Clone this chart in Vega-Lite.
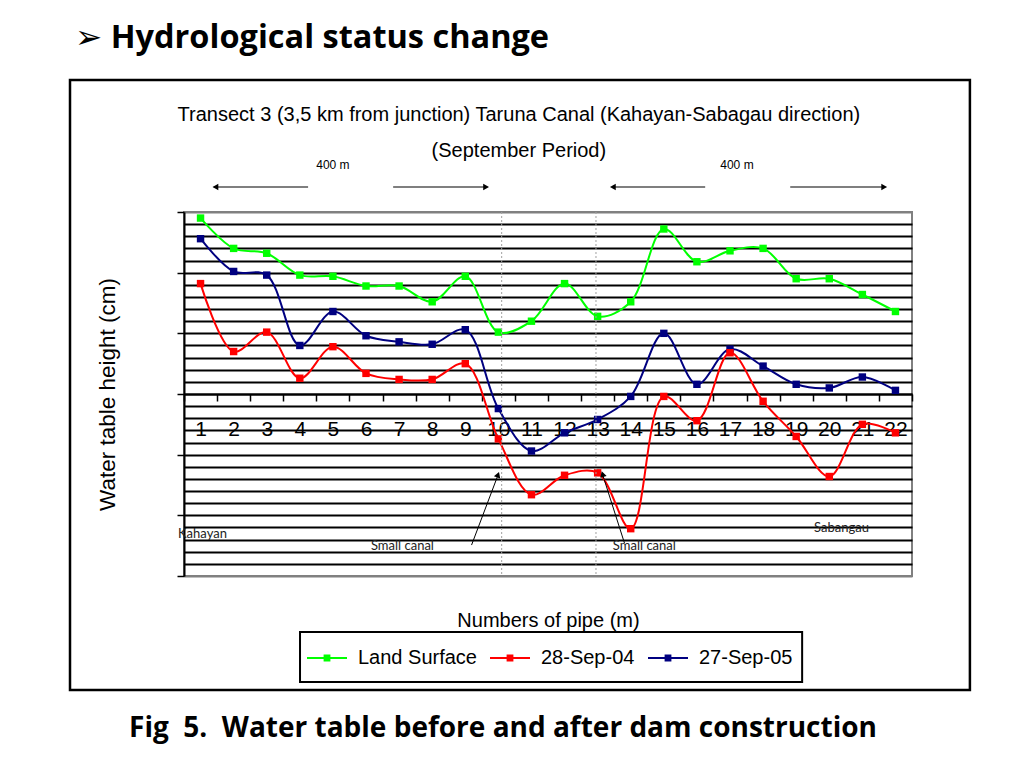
{
 "$schema": "https://vega.github.io/schema/vega-lite/v6.json",
 "width": 728,
 "height": 364,
 "autosize": {"type": "none"},
 "padding": {"left": 184, "top": 212, "right": 112, "bottom": 192},
 "background": "white",
 "config": {"view": {"stroke": "#808080", "strokeWidth": 2}},
 "title": {"text": "➢ Hydrological status change", "anchor": "start", "frame": "group", "dx": -109, "offset": 24, "font": "Open Sans, DejaVu Sans", "fontSize": 32.5, "fontWeight": "bold", "color": "black"},
 "layer": [
  {
   "data": {"values": [
    {"pipe": 1, "series": "Land Surface", "value": 1.45},
    {"pipe": 2, "series": "Land Surface", "value": 1.20},
    {"pipe": 3, "series": "Land Surface", "value": 1.16},
    {"pipe": 4, "series": "Land Surface", "value": 0.98},
    {"pipe": 5, "series": "Land Surface", "value": 0.97},
    {"pipe": 6, "series": "Land Surface", "value": 0.89},
    {"pipe": 7, "series": "Land Surface", "value": 0.89},
    {"pipe": 8, "series": "Land Surface", "value": 0.76},
    {"pipe": 9, "series": "Land Surface", "value": 0.97},
    {"pipe": 10, "series": "Land Surface", "value": 0.51},
    {"pipe": 11, "series": "Land Surface", "value": 0.60},
    {"pipe": 12, "series": "Land Surface", "value": 0.91},
    {"pipe": 13, "series": "Land Surface", "value": 0.64},
    {"pipe": 14, "series": "Land Surface", "value": 0.76},
    {"pipe": 15, "series": "Land Surface", "value": 1.36},
    {"pipe": 16, "series": "Land Surface", "value": 1.09},
    {"pipe": 17, "series": "Land Surface", "value": 1.18},
    {"pipe": 18, "series": "Land Surface", "value": 1.20},
    {"pipe": 19, "series": "Land Surface", "value": 0.95},
    {"pipe": 20, "series": "Land Surface", "value": 0.95},
    {"pipe": 21, "series": "Land Surface", "value": 0.82},
    {"pipe": 22, "series": "Land Surface", "value": 0.68},
    {"pipe": 1, "series": "27-Sep-05", "value": 1.28},
    {"pipe": 2, "series": "27-Sep-05", "value": 1.01},
    {"pipe": 3, "series": "27-Sep-05", "value": 0.98},
    {"pipe": 4, "series": "27-Sep-05", "value": 0.40},
    {"pipe": 5, "series": "27-Sep-05", "value": 0.68},
    {"pipe": 6, "series": "27-Sep-05", "value": 0.48},
    {"pipe": 7, "series": "27-Sep-05", "value": 0.43},
    {"pipe": 8, "series": "27-Sep-05", "value": 0.41},
    {"pipe": 9, "series": "27-Sep-05", "value": 0.53},
    {"pipe": 10, "series": "27-Sep-05", "value": -0.12},
    {"pipe": 11, "series": "27-Sep-05", "value": -0.47},
    {"pipe": 12, "series": "27-Sep-05", "value": -0.32},
    {"pipe": 13, "series": "27-Sep-05", "value": -0.21},
    {"pipe": 14, "series": "27-Sep-05", "value": -0.02},
    {"pipe": 15, "series": "27-Sep-05", "value": 0.50},
    {"pipe": 16, "series": "27-Sep-05", "value": 0.08},
    {"pipe": 17, "series": "27-Sep-05", "value": 0.37},
    {"pipe": 18, "series": "27-Sep-05", "value": 0.23},
    {"pipe": 19, "series": "27-Sep-05", "value": 0.08},
    {"pipe": 20, "series": "27-Sep-05", "value": 0.05},
    {"pipe": 21, "series": "27-Sep-05", "value": 0.14},
    {"pipe": 22, "series": "27-Sep-05", "value": 0.03},
    {"pipe": 1, "series": "28-Sep-04", "value": 0.91},
    {"pipe": 2, "series": "28-Sep-04", "value": 0.35},
    {"pipe": 3, "series": "28-Sep-04", "value": 0.51},
    {"pipe": 4, "series": "28-Sep-04", "value": 0.13},
    {"pipe": 5, "series": "28-Sep-04", "value": 0.39},
    {"pipe": 6, "series": "28-Sep-04", "value": 0.17},
    {"pipe": 7, "series": "28-Sep-04", "value": 0.12},
    {"pipe": 8, "series": "28-Sep-04", "value": 0.12},
    {"pipe": 9, "series": "28-Sep-04", "value": 0.25},
    {"pipe": 10, "series": "28-Sep-04", "value": -0.37},
    {"pipe": 11, "series": "28-Sep-04", "value": -0.83},
    {"pipe": 12, "series": "28-Sep-04", "value": -0.67},
    {"pipe": 13, "series": "28-Sep-04", "value": -0.65},
    {"pipe": 14, "series": "28-Sep-04", "value": -1.11},
    {"pipe": 15, "series": "28-Sep-04", "value": -0.02},
    {"pipe": 16, "series": "28-Sep-04", "value": -0.22},
    {"pipe": 17, "series": "28-Sep-04", "value": 0.34},
    {"pipe": 18, "series": "28-Sep-04", "value": -0.06},
    {"pipe": 19, "series": "28-Sep-04", "value": -0.35},
    {"pipe": 20, "series": "28-Sep-04", "value": -0.68},
    {"pipe": 21, "series": "28-Sep-04", "value": -0.25},
    {"pipe": 22, "series": "28-Sep-04", "value": -0.32}
   ]},
   "mark": {"type": "line", "interpolate": "catmull-rom", "strokeWidth": 2, "point": {"shape": "square", "size": 55, "filled": true}},
   "encoding": {
    "x": {
     "field": "pipe", "type": "quantitative",
     "scale": {"domain": [0.5, 22.5], "nice": false, "zero": false},
     "axis": {
      "values": [0.5,1,1.5,2,2.5,3,3.5,4,4.5,5,5.5,6,6.5,7,7.5,8,8.5,9,9.5,10,10.5,11,11.5,12,12.5,13,13.5,14,14.5,15,15.5,16,16.5,17,17.5,18,18.5,19,19.5,20,20.5,21,21.5,22,22.5],
      "tickCount": 200,
      "offset": -182,
      "grid": false,
      "domainColor": "black", "domainWidth": 2,
      "tickColor": "black", "tickWidth": 1.5, "tickSize": 7,
      "tickOpacity": {"condition": {"test": "datum.value % 1 != 0", "value": 1}, "value": 0},
      "labelExpr": "datum.value % 1 == 0 ? '' + datum.value : ''",
      "labelFont": "Liberation Sans", "labelFontSize": 21, "labelColor": "black",
      "labelPadding": 17, "labelFlush": false, "labelOverlap": false,
      "title": "Numbers of pipe (m)",
      "titleFont": "Liberation Sans", "titleFontSize": 20, "titleFontWeight": "normal", "titleColor": "black",
      "titlePadding": 171
     }
    },
    "y": {
     "field": "value", "type": "quantitative",
     "scale": {"domain": [-1.5, 1.5], "nice": false, "zero": false},
     "axis": {
      "values": [-1.5,-1.4,-1.3,-1.2,-1.1,-1,-0.9,-0.8,-0.7,-0.6,-0.5,-0.4,-0.3,-0.2,-0.1,0,0.1,0.2,0.3,0.4,0.5,0.6,0.7,0.8,0.9,1,1.1,1.2,1.3,1.4,1.5],
      "tickCount": 200,
      "labels": false,
      "grid": true,
      "gridColor": {"condition": {"test": "abs(datum.value) > 1.45", "value": "#808080"}, "value": "black"},
      "gridWidth": 2,
      "domainColor": "black", "domainWidth": 2,
      "tickColor": "black", "tickWidth": 1.5, "tickSize": 7,
      "tickOpacity": {"condition": {"test": "abs(datum.value * 2 - round(datum.value * 2)) < 0.001", "value": 1}, "value": 0},
      "title": "Water table height (cm)",
      "titleFont": "Liberation Sans", "titleFontSize": 22.5, "titleFontWeight": "normal", "titleColor": "black",
      "titlePadding": 57
     }
    },
    "color": {
     "field": "series", "type": "nominal",
     "scale": {"domain": ["Land Surface", "28-Sep-04", "27-Sep-05"], "range": ["#00ff00", "#ff0000", "#000080"]},
     "legend": {
      "title": null, "orient": "none", "legendX": 122, "legendY": 425, "direction": "horizontal",
      "padding": 0,
      "labelFont": "Liberation Sans", "labelFontSize": 20, "labelColor": "black",
      "symbolType": "M-1,0H1M-0.12,-0.12H0.12V0.12H-0.12ZM-0.05,-0.05H0.05V0.05H-0.05Z", "symbolSize": 1600, "symbolStrokeWidth": 2,
      "columnPadding": 9, "labelOffset": 10
     }
    },
    "order": {"field": "pipe", "type": "quantitative"}
   }
  },
  {
   "data": {"values": [{}]},
   "mark": {"type": "rect", "fillOpacity": 0, "stroke": "black", "strokeWidth": 2.5},
   "encoding": {
    "x": {"datum": -2.945, "type": "quantitative"},
    "x2": {"datum": 24.25},
    "y": {"datum": 2.588, "type": "quantitative"},
    "y2": {"datum": -2.44}
   }
  },
  {
   "data": {"values": [{}]},
   "mark": {"type": "rect", "fill": "white", "stroke": "black", "strokeWidth": 2},
   "encoding": {
    "x": {"datum": 4.006, "type": "quantitative"},
    "x2": {"datum": 19.18},
    "y": {"datum": -1.962, "type": "quantitative"},
    "y2": {"datum": -2.374}
   }
  },
  {
   "data": {"values": [{}]},
   "mark": {"type": "rule", "color": "#a0a0a0", "strokeWidth": 1, "strokeDash": [2, 2]},
   "encoding": {"x": {"datum": 10.1, "type": "quantitative"}}
  },
  {
   "data": {"values": [{}]},
   "mark": {"type": "rule", "color": "#a0a0a0", "strokeWidth": 1, "strokeDash": [2, 2]},
   "encoding": {"x": {"datum": 12.95, "type": "quantitative"}}
  },
  {
   "data": {"values": [{}]},
   "mark": {"type": "text", "text": "Transect 3 (3,5 km from junction) Taruna Canal (Kahayan-Sabagau direction)", "font": "Liberation Sans", "fontSize": 20, "baseline": "middle", "align": "center", "color": "black"},
   "encoding": {"x": {"datum": 10.62, "type": "quantitative"}, "y": {"datum": 2.30, "type": "quantitative"}}
  },
  {
   "data": {"values": [{}]},
   "mark": {"type": "text", "text": "(September Period)", "font": "Liberation Sans", "fontSize": 20, "baseline": "middle", "align": "center", "color": "black"},
   "encoding": {"x": {"datum": 10.62, "type": "quantitative"}, "y": {"datum": 2.003, "type": "quantitative"}}
  },
  {
   "data": {"values": [{}]},
   "mark": {"type": "text", "text": "400 m", "font": "Liberation Sans", "fontSize": 12, "baseline": "middle", "align": "center", "color": "black"},
   "encoding": {"x": {"datum": 5.0, "type": "quantitative"}, "y": {"datum": 1.887, "type": "quantitative"}}
  },
  {
   "data": {"values": [{}]},
   "mark": {"type": "text", "text": "400 m", "font": "Liberation Sans", "fontSize": 12, "baseline": "middle", "align": "center", "color": "black"},
   "encoding": {"x": {"datum": 17.21, "type": "quantitative"}, "y": {"datum": 1.887, "type": "quantitative"}}
  },
  {
   "data": {"values": [{}]},
   "mark": {"type": "rule", "color": "black", "strokeWidth": 1.2},
   "encoding": {"x": {"datum": 1.40, "type": "quantitative"}, "x2": {"datum": 4.25}, "y": {"datum": 1.706, "type": "quantitative"}}
  },
  {
   "data": {"values": [{}]},
   "mark": {"type": "rule", "color": "black", "strokeWidth": 1.2},
   "encoding": {"x": {"datum": 6.82, "type": "quantitative"}, "x2": {"datum": 9.65}, "y": {"datum": 1.706, "type": "quantitative"}}
  },
  {
   "data": {"values": [{}]},
   "mark": {"type": "rule", "color": "black", "strokeWidth": 1.2},
   "encoding": {"x": {"datum": 13.44, "type": "quantitative"}, "x2": {"datum": 16.25}, "y": {"datum": 1.706, "type": "quantitative"}}
  },
  {
   "data": {"values": [{}]},
   "mark": {"type": "rule", "color": "black", "strokeWidth": 1.2},
   "encoding": {"x": {"datum": 18.82, "type": "quantitative"}, "x2": {"datum": 21.68}, "y": {"datum": 1.706, "type": "quantitative"}}
  },
  {
   "data": {"values": [{}]},
   "mark": {"type": "point", "shape": "triangle-left", "filled": true, "color": "black", "size": 45, "opacity": 1},
   "encoding": {"x": {"datum": 1.45, "type": "quantitative"}, "y": {"datum": 1.706, "type": "quantitative"}}
  },
  {
   "data": {"values": [{}]},
   "mark": {"type": "point", "shape": "triangle-right", "filled": true, "color": "black", "size": 45, "opacity": 1},
   "encoding": {"x": {"datum": 9.63, "type": "quantitative"}, "y": {"datum": 1.706, "type": "quantitative"}}
  },
  {
   "data": {"values": [{}]},
   "mark": {"type": "point", "shape": "triangle-left", "filled": true, "color": "black", "size": 45, "opacity": 1},
   "encoding": {"x": {"datum": 13.46, "type": "quantitative"}, "y": {"datum": 1.706, "type": "quantitative"}}
  },
  {
   "data": {"values": [{}]},
   "mark": {"type": "point", "shape": "triangle-right", "filled": true, "color": "black", "size": 45, "opacity": 1},
   "encoding": {"x": {"datum": 21.66, "type": "quantitative"}, "y": {"datum": 1.706, "type": "quantitative"}}
  },
  {
   "data": {"values": [{}]},
   "mark": {"type": "text", "text": "Kahayan", "font": "Lato", "fontSize": 13, "baseline": "middle", "align": "left", "color": "#222222"},
   "encoding": {"x": {"datum": 0.32, "type": "quantitative"}, "y": {"datum": -1.154, "type": "quantitative"}}
  },
  {
   "data": {"values": [{}]},
   "mark": {"type": "text", "text": "Sabangau", "font": "Lato", "fontSize": 13, "baseline": "middle", "align": "left", "color": "#222222"},
   "encoding": {"x": {"datum": 19.54, "type": "quantitative"}, "y": {"datum": -1.104, "type": "quantitative"}}
  },
  {
   "data": {"values": [{}]},
   "mark": {"type": "text", "text": "Small canal", "font": "Lato", "fontSize": 13, "baseline": "middle", "align": "left", "color": "#222222"},
   "encoding": {"x": {"datum": 6.15, "type": "quantitative"}, "y": {"datum": -1.253, "type": "quantitative"}}
  },
  {
   "data": {"values": [{}]},
   "mark": {"type": "text", "text": "Small canal", "font": "Lato", "fontSize": 13, "baseline": "middle", "align": "left", "color": "#222222"},
   "encoding": {"x": {"datum": 13.46, "type": "quantitative"}, "y": {"datum": -1.253, "type": "quantitative"}}
  },
  {
   "data": {"values": [{}]},
   "mark": {"type": "rule", "color": "black", "strokeWidth": 1},
   "encoding": {"x": {"datum": 9.19, "type": "quantitative"}, "x2": {"datum": 10.0}, "y": {"datum": -1.245, "type": "quantitative"}, "y2": {"datum": -0.66}}
  },
  {
   "data": {"values": [{}]},
   "mark": {"type": "rule", "color": "black", "strokeWidth": 1},
   "encoding": {"x": {"datum": 13.81, "type": "quantitative"}, "x2": {"datum": 13.14}, "y": {"datum": -1.228, "type": "quantitative"}, "y2": {"datum": -0.655}}
  },
  {
   "data": {"values": [{}]},
   "mark": {"type": "point", "shape": "triangle-up", "filled": true, "color": "black", "size": 45, "opacity": 1, "angle": 20},
   "encoding": {"x": {"datum": 9.99, "type": "quantitative"}, "y": {"datum": -0.665, "type": "quantitative"}}
  },
  {
   "data": {"values": [{}]},
   "mark": {"type": "point", "shape": "triangle-up", "filled": true, "color": "black", "size": 45, "opacity": 1, "angle": -17},
   "encoding": {"x": {"datum": 13.15, "type": "quantitative"}, "y": {"datum": -0.66, "type": "quantitative"}}
  },
  {
   "data": {"values": [{}]},
   "mark": {"type": "text", "text": "Fig\u00a0 5.\u00a0 Water table before and after dam construction", "font": "Open Sans", "fontSize": 28, "fontWeight": "bold", "baseline": "middle", "align": "center", "color": "black"},
   "encoding": {"x": {"datum": 10.14, "type": "quantitative"}, "y": {"datum": -2.761, "type": "quantitative"}}
  }
 ]
}
